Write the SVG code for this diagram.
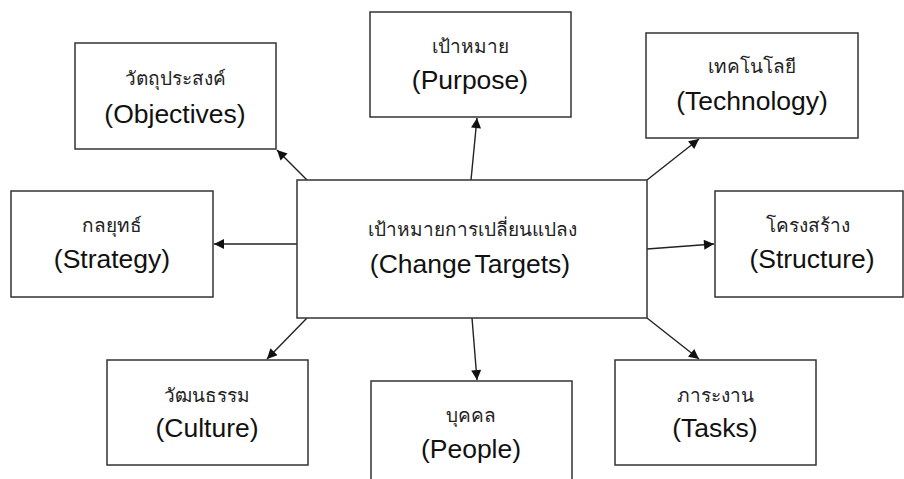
<svg xmlns="http://www.w3.org/2000/svg" width="904" height="479" viewBox="0 0 904 479">
  <style>
    .box { fill: #ffffff; stroke: #333333; stroke-width: 1.5; }
    .th { font-family: "Liberation Sans", "Noto Sans", sans-serif; font-size: 19px; fill: #222222; text-anchor: middle; }
    .en { font-family: "Liberation Sans", "Noto Sans", sans-serif; font-size: 26.5px; fill: #111111; text-anchor: middle; }
    .link { stroke: #222222; stroke-width: 1.4; fill: none; marker-end: url(#head); }
  </style>
  <defs>
    <marker id="head" viewBox="0 0 10 10" refX="10" refY="5" markerWidth="12" markerHeight="10" markerUnits="userSpaceOnUse" orient="auto">
      <path d="M0,0 L10,5 L0,10 Z" fill="#111111"/>
    </marker>
  </defs>
  <rect width="904" height="479" fill="#ffffff"/>

  <g id="connectors">
    <line class="link" x1="307" y1="180" x2="277" y2="150"/>
    <line class="link" x1="471" y1="180" x2="477" y2="118"/>
    <line class="link" x1="647" y1="180" x2="699" y2="139"/>
    <line class="link" x1="297" y1="244" x2="214" y2="244"/>
    <line class="link" x1="647" y1="249" x2="714" y2="244"/>
    <line class="link" x1="307" y1="318" x2="267" y2="359"/>
    <line class="link" x1="472" y1="318" x2="477" y2="380"/>
    <line class="link" x1="647" y1="318" x2="699" y2="359"/>
  </g>

  <g id="objectives">
    <rect class="box" x="75" y="43" width="201" height="106"/>
    <text class="th" x="175" y="85">วัตถุประสงค์</text>
    <text class="en" x="175" y="123">(Objectives)</text>
  </g>
  <g id="purpose">
    <rect class="box" x="370" y="12" width="201" height="105"/>
    <text class="th" x="470" y="53">เป้าหมาย</text>
    <text class="en" x="470" y="89">(Purpose)</text>
  </g>
  <g id="technology">
    <rect class="box" x="646" y="33" width="212" height="105"/>
    <text class="th" x="752" y="73">เทคโนโลยี</text>
    <text class="en" x="752" y="110">(Technology)</text>
  </g>
  <g id="strategy">
    <rect class="box" x="11" y="191" width="202" height="106"/>
    <text class="th" x="112" y="232">กลยุทธ์</text>
    <text class="en" x="112" y="268">(Strategy)</text>
  </g>
  <g id="change-targets">
    <rect class="box" x="297" y="180" width="350" height="138"/>
    <text class="th" x="472" y="236">เป้าหมายการเปลี่ยนแปลง</text>
    <text class="en" x="470" y="273" word-spacing="-4">(Change Targets)</text>
  </g>
  <g id="structure">
    <rect class="box" x="715" y="191" width="188" height="106"/>
    <text class="th" x="808" y="232">โครงสร้าง</text>
    <text class="en" x="812" y="268">(Structure)</text>
  </g>
  <g id="culture">
    <rect class="box" x="107" y="360" width="201" height="105"/>
    <text class="th" x="207" y="402">วัฒนธรรม</text>
    <text class="en" x="207" y="437">(Culture)</text>
  </g>
  <g id="people">
    <rect class="box" x="371" y="381" width="201" height="110"/>
    <text class="th" x="471" y="422">บุคคล</text>
    <text class="en" x="471" y="458">(People)</text>
  </g>
  <g id="tasks">
    <rect class="box" x="615" y="360" width="201" height="105"/>
    <text class="th" x="715" y="402">ภาระงาน</text>
    <text class="en" x="715" y="437">(Tasks)</text>
  </g>
</svg>
